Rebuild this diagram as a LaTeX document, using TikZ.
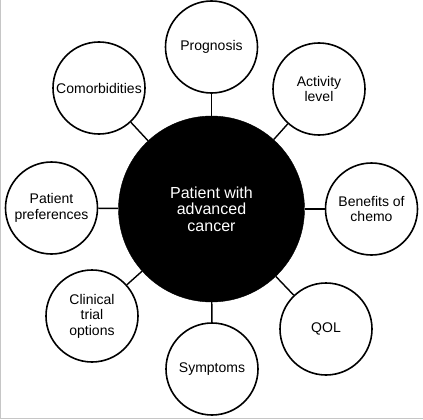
\documentclass[tikz,border=0pt]{standalone}
\usepackage{fontspec}
\setsansfont{Liberation Sans}
\begin{document}
\begin{tikzpicture}[x=1pt,y=1pt,
	outer/.style={circle,draw,line width=1.6pt,minimum size=92pt,inner sep=0pt,align=center,font=\sffamily\fontsize{14}{15.5}\selectfont},
	hub/.style={circle,fill=black,draw=black,minimum size=186pt,inner sep=0pt,align=center,text=white,font=\sffamily\fontsize{16}{16.5}\selectfont}]
	\useasboundingbox (0,0) rectangle (423,-420);
	\draw[gray!45,line width=1.2pt] (0.6,0) -- (0.6,-418.6) -- (423,-418.6);

	\node[hub] (p) at (211.5,-209) {Patient with\\advanced\\cancer};
	\node[outer] (prog) at (211.5,-47) {Prognosis};
	\node[outer] (act) at (319,-89) {Activity\\level};
	\node[outer] (chemo) at (371.5,-209) {Benefits of\\chemo};
	\node[outer] (qol) at (326,-329) {QOL};
	\node[outer] (sym) at (212,-369) {Symptoms};
	\node[outer] (trial) at (92,-316) {Clinical\\trial\\options};
	\node[outer] (pref) at (51.5,-208) {Patient\\preferences};
	\node[outer] (comor) at (99,-88) {Comorbidities};

	\foreach \to in {prog,act,chemo,qol,sym,trial,pref,comor}
		\draw[line width=1.4pt] (p) -- (\to);
\end{tikzpicture}
\end{document}
